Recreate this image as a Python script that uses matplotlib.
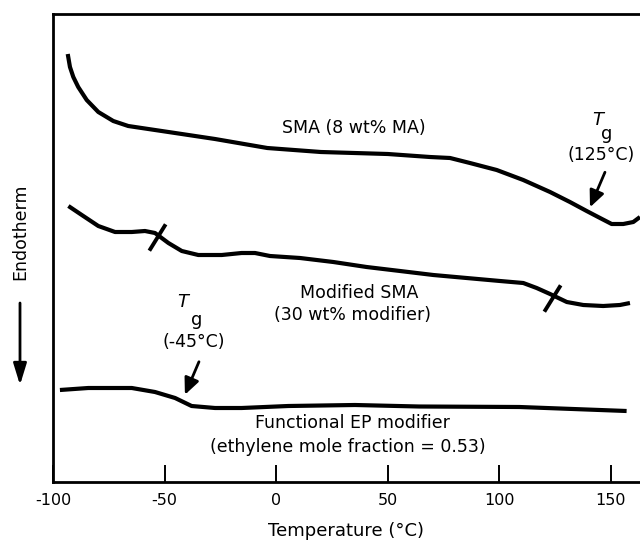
import numpy as np
import matplotlib
matplotlib.use("Agg")
import matplotlib.pyplot as plt
from matplotlib.path import Path

plt.rcParams["font.family"] = ["DejaVu Sans"]
plt.rcParams["axes.unicode_minus"] = False

# DSC traces (temperature in degC, heat flow in arbitrary units, endotherm down)
sma_T = [-93.4, -92.4, -90.9, -88.7, -84.9, -79.7, -73.0, -66.3, -57.3, -42.3,
         -27.4, -4, 20, 50, 68.9, 77.9, 86.8, 98.8, 110.7, 122.7, 131.6,
         139.1, 145.1, 150.3, 155.5, 160.0, 163.0]
sma_q = [42.8, 41.5, 40.5, 39.5, 38.2, 37.0, 36.1, 35.6, 35.3, 34.8, 34.3,
         33.4, 33.0, 32.8, 32.5, 32.4, 31.9, 31.2, 30.2, 29.0, 28.0, 27.1,
         26.4, 25.8, 25.8, 26.0, 26.5]

mod_T = [-93.1, -87.1, -79.7, -72.2, -64.7, -58.8, -54.3, -48.3, -42.3, -34.9,
         -24.4, -15.5, -9.5, -2.8, 10.7, 25.6, 40.5, 55.5, 70.4, 85.3, 100.3,
         110.7, 116.7, 122.7, 130.2, 137.6, 146.5, 154.0, 158.5]
mod_q = [27.6, 26.7, 25.6, 25.0, 25.0, 25.1, 24.9, 23.9, 23.1, 22.7, 22.7,
         22.9, 22.9, 22.6, 22.4, 22.0, 21.5, 21.1, 20.7, 20.4, 20.1, 19.9,
         19.4, 18.8, 18.0, 17.7, 17.6, 17.7, 17.9]

ep_T = [-96.9, -84.2, -64.7, -54.3, -45.3, -37.9, -27.4, -15.5, 5.4, 35.3, 64,
        109, 157]
ep_q = [9.2, 9.4, 9.4, 9.0, 8.4, 7.6, 7.4, 7.4, 7.6, 7.7, 7.55, 7.5, 7.1]

# transitions of the blend marked with short slashes
mod_tg = [-53.5, 123.4]
# glass transitions pointed at by arrows
sma_tg_arrow = 140.6
ep_tg_arrow = -40.9

x_ticks = [-100, -50, 0, 50, 100, 150]

fig = plt.figure(figsize=(6.4, 5.4), dpi=100)
ax = fig.add_axes([53 / 640, 1 - 482 / 540, 1 - 53 / 640, (482 - 14) / 540])

lw = 3.0
for T, q in [(sma_T, sma_q), (mod_T, mod_q), (ep_T, ep_q)]:
    ax.plot(T, q, color="black", lw=lw, solid_capstyle="butt",
            solid_joinstyle="round")

slash = Path([(-13, -21), (13, 21)], [Path.MOVETO, Path.LINETO])
ax.plot(mod_tg, np.interp(mod_tg, mod_T, mod_q) - 0.3, linestyle="none",
        marker=slash, markersize=19, markeredgewidth=2.8, color="black")

ax.set_xlim(-100, 163)
ax.set_ylim(0, 46.8)
ax.set_xticks(x_ticks)
ax.set_yticks([])
ax.tick_params(axis="x", direction="in", length=12, width=1.4, pad=8,
               labelsize=11.5)
for s in ["left", "top", "bottom"]:
    ax.spines[s].set_linewidth(2.0)
ax.spines["right"].set_visible(False)

fs = 12.5
ax.text(35, 35.4, "SMA (8 wt% MA)", ha="center", va="center", fontsize=fs)
ax.text(37, 18.9, "Modified SMA", ha="center", va="center", fontsize=fs)
ax.text(34, 16.7, "(30 wt% modifier)", ha="center", va="center", fontsize=fs)
ax.text(34, 5.9, "Functional EP modifier", ha="center", va="center", fontsize=fs)
ax.text(32, 3.5, "(ethylene mole fraction = 0.53)", ha="center", va="center",
        fontsize=fs)

# Tg annotations
arrow_kw = dict(arrowstyle="-|>,head_length=1.0,head_width=0.45",
                color="black", lw=2.0, shrinkA=0, shrinkB=0)
y1 = np.interp(sma_tg_arrow, sma_T, sma_q) + 0.55
ax.annotate("", xy=(sma_tg_arrow, y1), xytext=(sma_tg_arrow + 6.7, y1 + 3.5),
            arrowprops=arrow_kw)
ax.text(144, 36.2, "T", style="italic", fontsize=13, ha="center", va="center")
ax.text(148, 34.8, "g", fontsize=13, ha="center", va="center")
ax.text(145.5, 32.7, "(125°C)", fontsize=fs, ha="center", va="center")

y2 = np.interp(ep_tg_arrow, ep_T, ep_q) + 0.8
ax.annotate("", xy=(ep_tg_arrow, y2), xytext=(ep_tg_arrow + 6.3, y2 + 3.3),
            arrowprops=arrow_kw)
ax.text(-42, 18.0, "T", style="italic", fontsize=13, ha="center", va="center")
ax.text(-35.5, 16.2, "g", fontsize=13, ha="center", va="center")
ax.text(-37, 14.0, "(-45°C)", fontsize=fs, ha="center", va="center")

ax.set_xlabel("Temperature (°C)", fontsize=13, labelpad=10)

# endotherm direction indicator
fig.text(20 / 640, 1 - 232 / 540, "Endotherm", rotation=90, ha="center",
         va="center", fontsize=fs)
ax.annotate("", xy=(20, 540 - 385), xytext=(20, 540 - 303),
            xycoords="figure pixels", textcoords="figure pixels",
            arrowprops=dict(arrowstyle="-|>,head_length=1.3,head_width=0.4",
                            color="black", lw=2.0, shrinkA=0, shrinkB=0))

fig.savefig("out.png", dpi=100)
